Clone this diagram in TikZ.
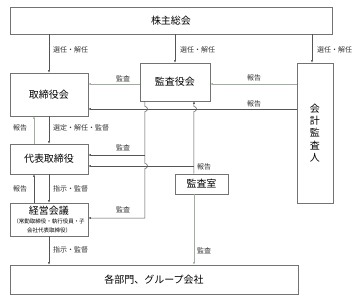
\documentclass[tikz,border=0pt]{standalone}
\usepackage{fontspec}
\setmainfont{Noto Sans CJK JP}
\usetikzlibrary{arrows.meta,calc}
\definecolor{lnc}{RGB}{85,85,85}
\definecolor{ltc}{RGB}{160,174,160}
\definecolor{bdc}{RGB}{115,115,115}
\begin{document}
\begin{tikzpicture}[x=1pt,y=-1pt,
  box/.style={draw=bdc,line width=0.6pt,inner sep=0pt,font=\fontsize{10}{11}\selectfont},
  lab/.style={font=\fontsize{7}{8}\selectfont,inner sep=0pt,anchor=west,text=black!80},
  arr/.style={draw=lnc,line width=0.5pt,-{Latex[length=2.6pt,width=2.2pt]}},
  arrl/.style={arr,draw=ltc},
  ln/.style={draw=lnc,line width=0.5pt}
]
\fill[white] (0,0) rectangle (360,300);

% boxes
\node[box,minimum width=322pt,minimum height=27pt] (sh) at (171,20.5) {株主総会};
\node[box,minimum width=78pt,minimum height=43pt] (tb) at (49,94.5) {取締役会};
\node[box,minimum width=70pt,minimum height=38pt] (ka) at (175,82) {監査役会};
\node[box,minimum width=36pt,minimum height=140pt,align=center,font=\fontsize{10}{12.3}\selectfont] (kk) at (315,133) {会\\計\\監\\査\\人};
\node[box,minimum width=78pt,minimum height=30pt] (dh) at (49,159) {代表取締役};
\node[box,minimum width=53pt,minimum height=20pt] (kc) at (201.5,184) {監査室};
\node[box,minimum width=78pt,minimum height=33pt,align=center] (ke) at (49,219.5)
  {{\fontsize{10}{11}\selectfont 経営会議}\\[-2pt]{\fontsize{5.5}{7}\selectfont （常勤取締役・執行役員・子}\\[-1.5pt]{\fontsize{5.5}{7}\selectfont 会社代表取締役）}};
\node[box,minimum width=288pt,minimum height=29pt] (bu) at (154,279.5) {各部門、グループ会社};

% helper coordinates
\coordinate (xa) at (145,0);
\coordinate (xb) at (194,0);
\coordinate (y1) at (0,84);
\coordinate (y2) at (0,109);
\coordinate (y3) at (0,155);
\coordinate (y4) at (0,166);
\coordinate (y5) at (0,218);
\coordinate (xl) at (34,0);
\coordinate (xr) at (312,0);
\coordinate (ha1) at (145,106.5);
\coordinate (ha2) at (145,163.5);
\coordinate (hb1) at (194,111.5);

% from shareholders meeting
\draw[arr] (sh.south -| tb.north) -- (tb.north);
\draw[arr] (sh.south -| ka.north) -- (ka.north);
\draw[arr] (sh.south -| xr) -- (kk.north -| xr);
\node[lab] (l1) at (53,50) {選任・解任};
\node[lab] (l2) at (180,50) {選任・解任};
\node[lab] (l3) at (317,50) {選任・解任};

% audit board -> board, auditor -> audit board, auditor -> board
\draw[arrl] (ka.west |- y1) -- (tb.east |- y1);
\node[lab] (l4) at (116,79) {監査};
\draw[arrl] (kk.west |- y1) -- (ka.east |- y1);
\node[lab] (l5) at (247,78) {報告};
\draw[arr] (kk.west |- y2) -- (tb.east |- y2);
\node[lab] (l6) at (247,104) {報告};

% board <-> representative director
\draw[arrl] (dh.north -| xl) -- (tb.south -| xl);
\node[lab] (l7) at (13,128) {報告};
\draw[arr] (tb.south) -- (dh.north);
\node[lab] (l8) at (53,128) {選定・解任・監督};

% representative director <-> management meeting
\draw[arr] (ke.north -| xl) -- (dh.south -| xl);
\node[lab] (l9) at (13,189) {報告};
\draw[arr] (dh.south) -- (ke.north);
\node[lab] (l10) at (53,189) {指示・監督};

% management meeting -> departments
\draw[arr] (ke.south) -- (bu.north -| ke.south);
\node[lab] (l11) at (53,250) {指示・監督};

% audit board vertical line with hops
\draw[arr] (ka.south -| xa) -- (ha1) arc[start angle=90,end angle=-90,radius=2.5pt]
  -- (ha2) arc[start angle=90,end angle=-90,radius=2.5pt]
  -- (xa |- y5) -- (ke.east |- y5);
\draw[arr] (xa |- y3) -- (dh.east |- y3);
\node[lab] (l12) at (116,148) {監査};
\node[lab] (l13) at (116,210) {監査};

% audit office line up to audit board
\draw[arr] (kc.north -| xb) -- (hb1) arc[start angle=-90,end angle=90,radius=2.5pt]
  -- (ka.south -| xb);
\draw[arr] (xb |- y4) -- (dh.east |- y4);
\node[lab] (l14) at (197,167) {報告};

% audit office -> departments
\draw[arrl] (kc.south -| xb) -- (bu.north -| xb);
\node[lab] (l15) at (197,251) {監査};
\end{tikzpicture}
\end{document}
